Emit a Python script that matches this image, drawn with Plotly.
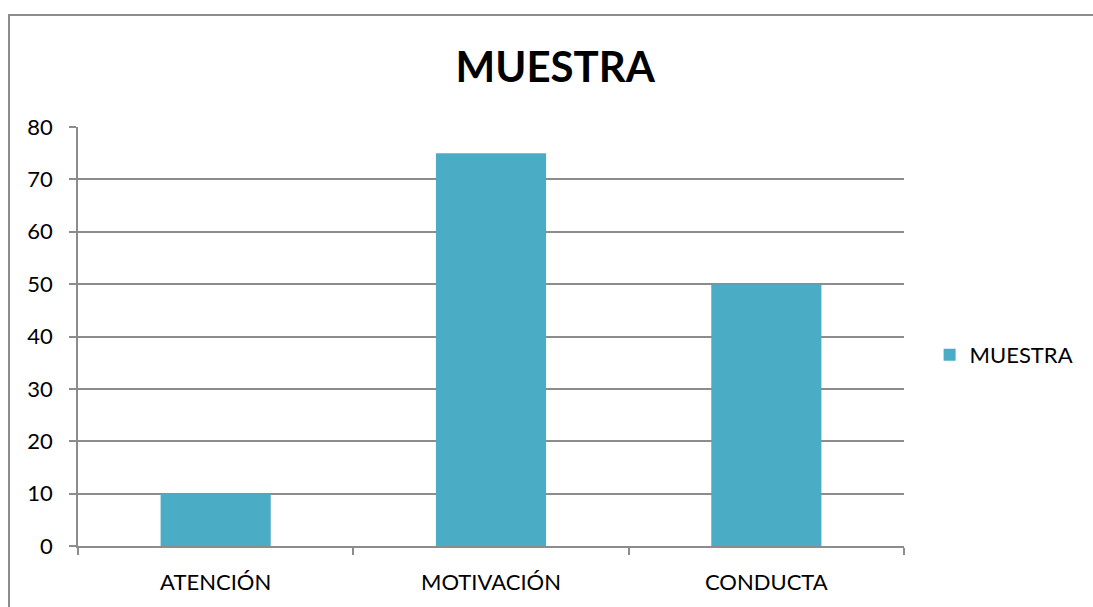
import plotly.graph_objects as go

categories = ["ATENCIÓN", "MOTIVACIÓN", "CONDUCTA"]
values = [10, 75, 50]
series_name = "MUESTRA"
title_text = "MUESTRA"
y_ticks = [0, 10, 20, 30, 40, 50, 60, 70, 80]

FONT = "Lato"
GRID = "#8c8c8c"

fig = go.Figure()
fig.add_trace(go.Bar(
    x=categories, y=values, name=series_name,
    marker=dict(color="#4BACC6", line=dict(width=0)),
    width=0.4,
))

fig.update_layout(
    width=1093, height=607,
    margin=dict(l=78, r=189, t=127, b=61),
    paper_bgcolor="white", plot_bgcolor="white",
    font=dict(family=FONT, size=22, color="#000000"),
    title=dict(text=f"<b>{title_text}</b>", x=0.508, xref="container",
               y=1 - 67/607, yref="container", xanchor="center", yanchor="middle",
               font=dict(size=42, family=FONT, color="#000000")),
    showlegend=True,
    legend=dict(x=1.031, y=0.456, xanchor="left", yanchor="middle",
                font=dict(size=22, family=FONT), itemwidth=30,
                bgcolor="rgba(0,0,0,0)"),
    bargap=0.6,
)
fig.update_xaxes(
    type="category", showline=True, linecolor=GRID, linewidth=1.5,
    ticks="outside", tickson="boundaries", ticklen=7, tickcolor=GRID, tickwidth=1.5,
    showgrid=False, tickfont=dict(size=22, family=FONT), ticklabelstandoff=16,
)
fig.update_yaxes(
    range=[0, 80], tickvals=y_ticks, showline=True, linecolor=GRID, linewidth=1.5,
    ticks="outside", ticklen=7, tickcolor=GRID, tickwidth=1.5,
    showgrid=True, gridcolor=GRID, gridwidth=1.5, zeroline=False,
    tickfont=dict(size=22, family=FONT), ticklabelstandoff=12,
)
# outer chart border
fig.add_shape(type="rect", xref="paper", yref="paper",
              x0=(9-78)/826, x1=(1110-78)/826, y0=(546-620)/419, y1=(546-15)/419,
              line=dict(color="#8c8c8c", width=2), fillcolor="rgba(0,0,0,0)", layer="below")

fig.write_html("out.html", config={"displayModeBar": False},
               post_script="document.body.style.margin='0';")
